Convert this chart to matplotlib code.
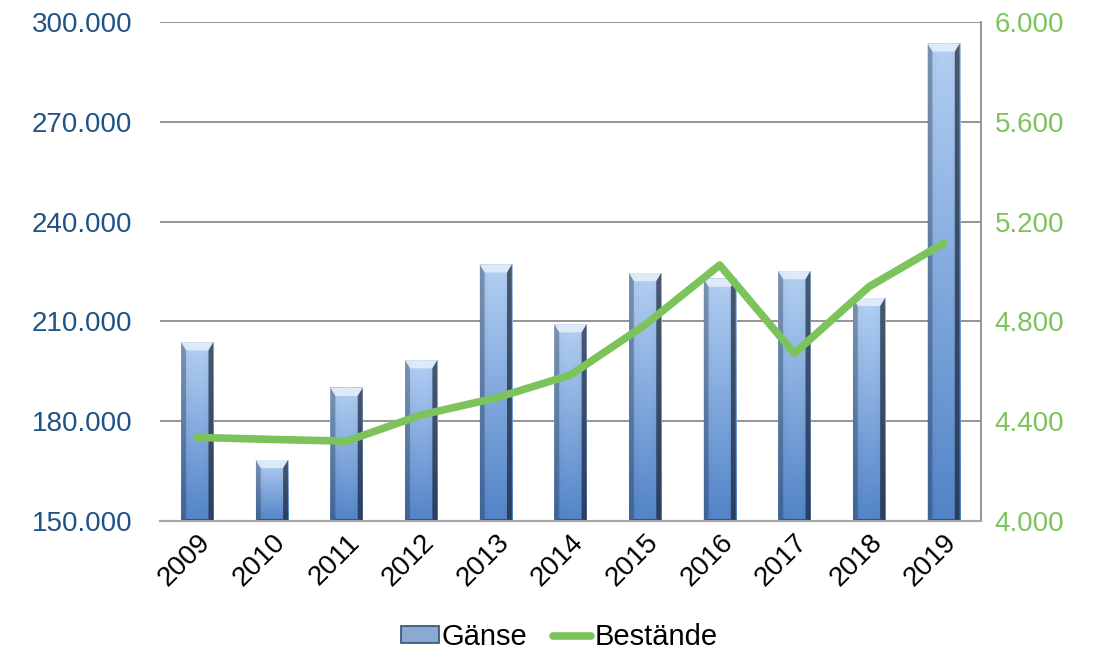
import matplotlib.pyplot as plt
import numpy as np
from matplotlib.patches import Polygon, Patch
from matplotlib.lines import Line2D
from matplotlib.ticker import FuncFormatter, MultipleLocator
from matplotlib.colors import to_rgb

plt.rcParams['font.family'] = ['Liberation Sans', 'DejaVu Sans']

# data
years = ['2009', '2010', '2011', '2012', '2013', '2014', '2015', '2016', '2017', '2018', '2019']
gaense = [203700, 168300, 190000, 198300, 227100, 209100, 224500, 222800, 225100, 217000, 293500]
bestaende = [4335, 4327, 4320, 4425, 4493, 4585, 4786, 5026, 4672, 4939, 5113]

left_color = '#1F5286'
right_color = '#7DC35C'
grid_color = '#8C8C8C'
fs = 20


def dot_thousands(v, pos):
    return f'{v:,.0f}'.replace(',', '.')


fig = plt.figure(figsize=(11.07, 6.59), dpi=100)
ax = fig.add_axes([0.1445, 0.2094, 0.7416, 0.7572])
ax2 = ax.twinx()

x = np.arange(len(years))
w = 0.43
ymin, ymax = 150000, 300000

# gradient for bar body
top_c = np.array(to_rgb('#ABC6E8'))
bot_c = np.array(to_rgb('#4F7EBF'))
ny, nx = 200, 40
t = np.linspace(0, 1, ny)[:, None, None]
vert = top_c * (1 - t) + bot_c * t
hx = np.linspace(-1, 1, nx)
hshade = (1 + 0.05 * (1 - hx ** 2))[None, :, None]
body = np.clip(vert * hshade, 0, 1)

px_y = (ymax - ymin) / 499.0   # data units per pixel on the left axis
bx = 0.065
by = 8 * px_y
for xi, v in zip(x, gaense):
    x0, x1 = xi - w / 2, xi + w / 2
    ax.imshow(body, extent=(x0, x1, ymin, v), aspect='auto', zorder=2,
              interpolation='bilinear')
    top = Polygon([(x0, v), (x1, v), (x1 - bx, v - by), (x0 + bx, v - by)],
                  closed=True, facecolor='white', alpha=0.6, lw=0, zorder=3)
    lft = Polygon([(x0, ymin), (x0, v), (x0 + bx, v - by), (x0 + bx, ymin + 2 * px_y)],
                  closed=True, facecolor='#1E2E45', alpha=0.35, lw=0, zorder=3)
    rgt = Polygon([(x1, ymin), (x1, v), (x1 - bx, v - by), (x1 - bx, ymin + 2 * px_y)],
                  closed=True, facecolor='#111C2C', alpha=0.65, lw=0, zorder=3)
    bot = Polygon([(x0, ymin), (x1, ymin), (x1 - bx, ymin + 2 * px_y), (x0 + bx, ymin + 2 * px_y)],
                  closed=True, facecolor='#111C2C', alpha=0.5, lw=0, zorder=3)
    for p in (top, lft, rgt, bot):
        ax.add_patch(p)

ax.set_xlim(-0.5, len(years) - 0.5)
ax.set_ylim(ymin, ymax)

ax.yaxis.set_major_locator(MultipleLocator(30000))
ax.yaxis.set_major_formatter(FuncFormatter(dot_thousands))
ax.grid(axis='y', color=grid_color, lw=1.3, zorder=1)
ax.set_axisbelow(True)
ax.tick_params(axis='y', colors=left_color, labelsize=fs, length=0, pad=20)
ax.tick_params(axis='x', length=0, labelsize=fs, pad=6)
ax.set_xticks(x)
ax.set_xticklabels(years, rotation=45, ha='right', rotation_mode='anchor')

# line on the right axis
ax2.plot(x, bestaende, color=right_color, lw=5.5, solid_capstyle='round', zorder=4)
ax2.set_ylim(4000, 6000)
ax2.yaxis.set_major_locator(MultipleLocator(400))
ax2.yaxis.set_major_formatter(FuncFormatter(dot_thousands))
ax2.tick_params(axis='y', colors=right_color, labelsize=fs, length=0, pad=10)

for a in (ax, ax2):
    a.spines['top'].set_visible(False)
    a.spines['left'].set_visible(False)
    a.spines['right'].set_visible(False)
    a.spines['bottom'].set_color('#A6A6A6')
    a.spines['bottom'].set_linewidth(1.5)
ax2.spines['right'].set_visible(True)
ax2.spines['right'].set_color(grid_color)
ax2.spines['right'].set_linewidth(1.3)

handles = [Patch(facecolor='#8AAAD4', edgecolor='#34506F', lw=1.2),
           Line2D([0], [0], color=right_color, lw=5.5, solid_capstyle='round')]
fig.legend(handles, ['Gänse', 'Bestände'], loc='center', ncol=2,
           bbox_to_anchor=(0.505, 1 - 637 / 659), frameon=False, fontsize=21,
           handlelength=1.3, handleheight=0.5, handletextpad=0.1, columnspacing=0.9)

fig.savefig('out.png', dpi=100)
